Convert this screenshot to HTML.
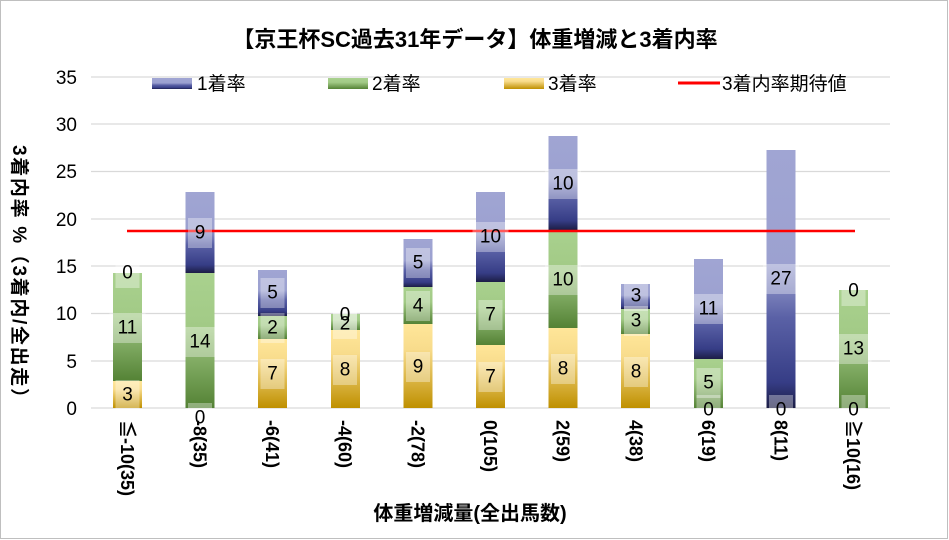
<!DOCTYPE html>
<html><head><meta charset="utf-8"><style>body{margin:0;background:#fff}svg{display:block}</style></head><body>
<svg width="949" height="540" viewBox="0 0 949 540" xmlns="http://www.w3.org/2000/svg" font-family="'Liberation Sans','Noto Sans CJK JP',sans-serif">
<defs>
<linearGradient id="b" x1="0" y1="0" x2="0" y2="1"><stop offset="0" stop-color="#a0a5d3"/><stop offset="0.45" stop-color="#9ca1d0"/><stop offset="0.65" stop-color="#5a61a6"/><stop offset="0.9" stop-color="#363d86"/><stop offset="1" stop-color="#1c1d45"/></linearGradient>
<linearGradient id="g" x1="0" y1="0" x2="0" y2="1"><stop offset="0" stop-color="#a9d18e"/><stop offset="0.4" stop-color="#a2ca86"/><stop offset="1" stop-color="#548235"/></linearGradient>
<linearGradient id="y" x1="0" y1="0" x2="0" y2="1"><stop offset="0" stop-color="#ffe699"/><stop offset="0.3" stop-color="#f8dc8c"/><stop offset="1" stop-color="#bf9000"/></linearGradient>
</defs>
<rect x="0.5" y="0.5" width="947" height="538" fill="#fff" stroke="#bfbfbf"/>
<text x="475" y="47" text-anchor="middle" font-size="22" font-weight="bold">【京王杯SC過去31年データ】体重増減と3着内率</text>
<g stroke="#d9d9d9" stroke-width="1.3">
<line x1="91" x2="890" y1="77" y2="77"/><line x1="91" x2="890" y1="124" y2="124"/><line x1="91" x2="890" y1="171.5" y2="171.5"/><line x1="91" x2="890" y1="219" y2="219"/><line x1="91" x2="890" y1="266" y2="266"/><line x1="91" x2="890" y1="313.5" y2="313.5"/><line x1="91" x2="890" y1="361" y2="361"/><line x1="91" x2="890" y1="408" y2="408"/>
</g>
<g font-size="19" text-anchor="end" fill="#000">
<text x="77" y="84">35</text><text x="77" y="131">30</text><text x="77" y="178">25</text><text x="77" y="226">20</text><text x="77" y="273">15</text><text x="77" y="320">10</text><text x="77" y="368">5</text><text x="77" y="415">0</text>
</g>
<text transform="translate(13,145) rotate(90)" font-size="19" font-weight="bold" textLength="262" lengthAdjust="spacing">3着内率 %（3着内/全出走）</text>
<!-- legend -->
<rect x="152" y="78" width="40" height="11" fill="url(#b)"/><text x="197" y="90" font-size="19">1着率</text>
<rect x="328" y="78" width="40" height="11" fill="url(#g)"/><text x="372" y="90" font-size="19">2着率</text>
<rect x="504" y="78" width="40" height="11" fill="url(#y)"/><text x="548" y="90" font-size="19">3着率</text>
<line x1="678" x2="720" y1="83" y2="83" stroke="#f00" stroke-width="3"/><text x="722" y="90" font-size="19">3着内率期待値</text>
<!-- bars -->
<g>
<rect x="113" y="381" width="29" height="27" fill="url(#y)"/><rect x="113" y="273" width="29" height="108" fill="url(#g)"/>
<rect x="185.5" y="273" width="29" height="135" fill="url(#g)"/><rect x="185.5" y="192" width="29" height="81" fill="url(#b)"/>
<rect x="258" y="339" width="29" height="69" fill="url(#y)"/><rect x="258" y="316" width="29" height="23" fill="url(#g)"/><rect x="258" y="270" width="29" height="46" fill="url(#b)"/>
<rect x="331" y="330" width="29" height="78" fill="url(#y)"/><rect x="331" y="314" width="29" height="16" fill="url(#g)"/>
<rect x="403.5" y="324" width="29" height="84" fill="url(#y)"/><rect x="403.5" y="287" width="29" height="37" fill="url(#g)"/><rect x="403.5" y="239" width="29" height="48" fill="url(#b)"/>
<rect x="476" y="345" width="29" height="63" fill="url(#y)"/><rect x="476" y="282" width="29" height="63" fill="url(#g)"/><rect x="476" y="192" width="29" height="90" fill="url(#b)"/>
<rect x="548.5" y="328" width="29" height="80" fill="url(#y)"/><rect x="548.5" y="230" width="29" height="98" fill="url(#g)"/><rect x="548.5" y="136" width="29" height="94" fill="url(#b)"/>
<rect x="621" y="334" width="29" height="74" fill="url(#y)"/><rect x="621" y="309" width="29" height="25" fill="url(#g)"/><rect x="621" y="284" width="29" height="25" fill="url(#b)"/>
<rect x="694" y="359" width="29" height="49" fill="url(#g)"/><rect x="694" y="259" width="29" height="100" fill="url(#b)"/>
<rect x="766.5" y="150" width="29" height="258" fill="url(#b)"/>
<rect x="839" y="290" width="29" height="118" fill="url(#g)"/>
</g>
<line x1="127" x2="855" y1="231" y2="231" stroke="#f00" stroke-width="2.5"/>
<!-- data labels -->
<g fill="#fff" fill-opacity="0.35">
<rect x="115.5" y="380" width="24" height="30"/><rect x="109.5" y="313" width="36" height="30"/><rect x="115.5" y="258" width="24" height="30"/>
<rect x="188" y="403" width="24" height="30"/><rect x="182" y="327" width="36" height="30"/><rect x="188" y="218" width="24" height="30"/>
<rect x="260.5" y="359" width="24" height="30"/><rect x="260.5" y="313" width="24" height="30"/><rect x="260.5" y="278" width="24" height="30"/>
<rect x="333" y="355" width="24" height="30"/><rect x="333" y="309" width="24" height="30"/><rect x="333" y="300" width="24" height="30"/>
<rect x="406" y="352" width="24" height="30"/><rect x="406" y="291" width="24" height="30"/><rect x="406" y="248" width="24" height="30"/>
<rect x="478.5" y="362" width="24" height="30"/><rect x="478.5" y="300" width="24" height="30"/><rect x="472.5" y="222" width="36" height="30"/>
<rect x="551" y="354" width="24" height="30"/><rect x="545" y="265" width="36" height="30"/><rect x="545" y="169" width="36" height="30"/>
<rect x="624" y="357" width="24" height="30"/><rect x="624" y="306" width="24" height="30"/><rect x="624" y="281" width="24" height="30"/>
<rect x="696.5" y="395" width="24" height="30"/><rect x="696.5" y="368" width="24" height="30"/><rect x="690.5" y="294" width="36" height="30"/>
<rect x="769" y="395" width="24" height="30"/><rect x="763" y="264" width="36" height="30"/>
<rect x="841.5" y="395" width="24" height="30"/><rect x="835.5" y="334" width="36" height="30"/><rect x="841.5" y="276" width="24" height="30"/>
</g>
<g font-size="19" text-anchor="middle" dominant-baseline="central" fill="#000">
<text x="127.5" y="395">3</text><text x="127.5" y="328">11</text><text x="127.5" y="273">0</text>
<text x="200" y="418">0</text><text x="200" y="342">14</text><text x="200" y="233">9</text>
<text x="272.5" y="374">7</text><text x="272.5" y="328">2</text><text x="272.5" y="293">5</text>
<text x="345" y="370">8</text><text x="345" y="324">2</text><text x="345" y="315">0</text>
<text x="418" y="367">9</text><text x="418" y="306">4</text><text x="418" y="263">5</text>
<text x="490.5" y="377">7</text><text x="490.5" y="315">7</text><text x="490.5" y="237">10</text>
<text x="563" y="369">8</text><text x="563" y="280">10</text><text x="563" y="184">10</text>
<text x="636" y="372">8</text><text x="636" y="321">3</text><text x="636" y="296">3</text>
<text x="708.5" y="410">0</text><text x="708.5" y="383">5</text><text x="708.5" y="309">11</text>
<text x="781" y="410">0</text><text x="781" y="279">27</text>
<text x="853.5" y="410">0</text><text x="853.5" y="349">13</text><text x="853.5" y="291">0</text>
</g>
<!-- x labels -->
<g font-size="18" font-weight="bold" fill="#000">
<text transform="translate(121,420) rotate(90)">≦-10(35)</text>
<text transform="translate(193.5,420) rotate(90)">-8(35)</text>
<text transform="translate(266,420) rotate(90)">-6(41)</text>
<text transform="translate(338.5,420) rotate(90)">-4(60)</text>
<text transform="translate(411.5,420) rotate(90)">-2(78)</text>
<text transform="translate(484,420) rotate(90)">0(105)</text>
<text transform="translate(556.5,420) rotate(90)">2(59)</text>
<text transform="translate(629.5,420) rotate(90)">4(38)</text>
<text transform="translate(702,420) rotate(90)">6(19)</text>
<text transform="translate(774.5,420) rotate(90)">8(11)</text>
<text transform="translate(847,420) rotate(90)">≧10(16)</text>
</g>
<text x="470" y="520" text-anchor="middle" font-size="20" font-weight="bold">体重増減量(全出馬数)</text>
</svg>
</body></html>
